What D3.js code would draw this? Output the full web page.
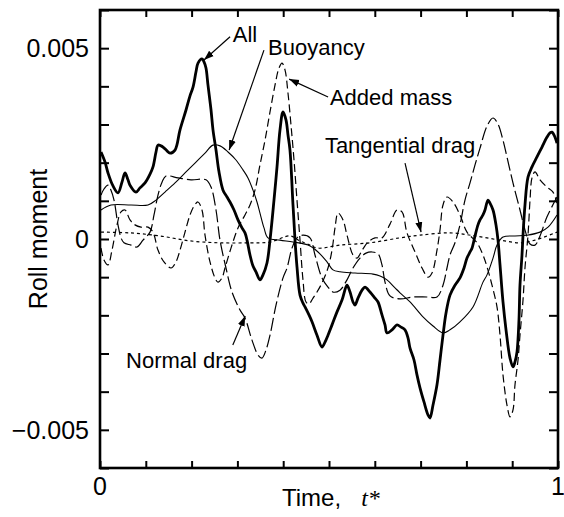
<!DOCTYPE html>
<html><head><meta charset="utf-8">
<script src="https://cdn.jsdelivr.net/npm/d3@7"></script>
<style>body{margin:0;background:#fff}svg{display:block}</style>
</head><body>
<svg id="chart" width="564" height="517"></svg>
<script>
// values of roll moment are given in units of 1e-3
const UNIT = 1e-3;

const tAll = [0.0022,0.0109,0.0175,0.0284,0.0393,0.0480,0.0546,0.0611,0.0655,0.0786,0.0873,0.0983,0.1092,0.1157,0.1223,0.1266,0.1332,0.1376,0.1463,0.1528,0.1638,0.1747,0.1878,0.1965,0.2031,0.2096,0.2140,0.2227,0.2271,0.2314,0.2358,0.2424,0.2467,0.2533,0.2598,0.2686,0.2773,0.2838,0.2926,0.3013,0.3100,0.3166,0.3210,0.3275,0.3341,0.3406,0.3493,0.3559,0.3646,0.3712,0.3799,0.3865,0.3930,0.3996,0.4061,0.4105,0.4148,0.4214,0.4258,0.4301,0.4367,0.4432,0.4476,0.4563,0.4629,0.4738,0.4847,0.4913,0.4978,0.5066,0.5175,0.5284,0.5393,0.5459,0.5524,0.5568,0.5633,0.5721,0.5786,0.5895,0.6004,0.6070,0.6157,0.6223,0.6266,0.6376,0.6485,0.6572,0.6659,0.6725,0.6769,0.6856,0.6921,0.6987,0.7074,0.7162,0.7205,0.7271,0.7358,0.7424,0.7489,0.7555,0.7642,0.7751,0.7860,0.7948,0.8013,0.8079,0.8122,0.8188,0.8253,0.8297,0.8362,0.8406,0.8472,0.8515,0.8581,0.8646,0.8690,0.8734,0.8799,0.8865,0.8952,0.9017,0.9061,0.9105,0.9148,0.9170,0.9214,0.9236,0.9279,0.9345,0.9432,0.9541,0.9651,0.9760,0.9825,0.9869,0.9934,0.9978];
const vAll = [2.28,2.02,1.73,1.39,1.21,1.49,1.73,1.55,1.41,1.23,1.34,1.47,1.70,1.89,2.28,2.46,2.44,2.41,2.31,2.25,2.33,2.86,3.38,3.75,3.98,4.38,4.61,4.72,4.64,4.48,4.03,3.38,2.86,2.33,1.76,1.28,1.10,0.97,0.76,0.50,0.29,0.16,-0.03,-0.42,-0.71,-0.86,-1.07,-0.94,-0.63,-0.03,1.02,1.89,2.86,3.33,3.12,2.72,2.33,0.89,-0.03,-0.73,-1.47,-1.68,-1.78,-1.99,-2.17,-2.52,-2.83,-2.70,-2.52,-2.25,-1.91,-1.60,-1.21,-1.39,-1.65,-1.73,-1.55,-1.34,-1.26,-1.39,-1.55,-1.65,-1.99,-2.25,-2.46,-2.38,-2.25,-2.31,-2.38,-2.59,-2.86,-3.17,-3.56,-3.90,-4.27,-4.61,-4.69,-4.35,-3.82,-3.17,-2.52,-1.94,-1.47,-1.21,-1.02,-0.76,-0.50,-0.34,-0.24,0.08,0.37,0.50,0.63,0.76,1.02,0.94,0.76,0.37,-0.03,-0.68,-1.65,-2.38,-3.12,-3.35,-3.22,-2.96,-2.12,-1.21,-0.42,0.10,0.89,1.62,1.89,2.15,2.41,2.67,2.78,2.80,2.67,2.51];

const tBuoy = [0.0022,0.0240,0.0677,0.1048,0.1223,0.1419,0.1638,0.1856,0.2074,0.2293,0.2467,0.2620,0.2795,0.2969,0.3122,0.3231,0.3341,0.3428,0.3493,0.3581,0.3668,0.3930,0.4214,0.4541,0.4760,0.4956,0.5087,0.5240,0.5568,0.5961,0.6114,0.6266,0.6441,0.6550,0.6769,0.7052,0.7271,0.7489,0.7642,0.7860,0.8144,0.8362,0.8450,0.8581,0.8668,0.8799,0.9061,0.9323,0.9607,0.9782,0.9978];
const vBuoy = [0.76,0.89,0.89,0.89,1.02,1.23,1.47,1.73,1.99,2.25,2.46,2.44,2.28,2.07,1.81,1.60,1.28,0.97,0.68,0.29,0.03,-0.03,-0.08,-0.16,-0.34,-0.60,-0.81,-0.86,-0.89,-0.92,-0.97,-1.07,-1.28,-1.41,-1.65,-2.04,-2.28,-2.46,-2.38,-2.17,-1.78,-1.13,-0.94,-0.50,-0.16,0.05,0.08,0.10,0.18,0.31,0.63];

const tAdded = [0.0022,0.0087,0.0175,0.0262,0.0371,0.0459,0.0546,0.0655,0.0764,0.0895,0.1048,0.1157,0.1266,0.1397,0.1550,0.1659,0.1747,0.1856,0.1965,0.2052,0.2140,0.2227,0.2293,0.2402,0.2511,0.2576,0.2664,0.2729,0.2860,0.3013,0.3166,0.3275,0.3384,0.3493,0.3603,0.3712,0.3821,0.3908,0.3974,0.4039,0.4105,0.4170,0.4236,0.4301,0.4367,0.4432,0.4498,0.4563,0.4651,0.4738,0.4847,0.4978,0.5066,0.5131,0.5197,0.5306,0.5393,0.5524,0.5611,0.5721,0.5852,0.6004,0.6157,0.6332,0.6485,0.6594,0.6703,0.6878,0.7031,0.7162,0.7249,0.7358,0.7424,0.7489,0.7576,0.7707,0.7860,0.8013,0.8231,0.8362,0.8450,0.8559,0.8668,0.8734,0.8799,0.8886,0.8952,0.9017,0.9061,0.9127,0.9170,0.9236,0.9279,0.9345,0.9389,0.9432,0.9498,0.9607,0.9760,0.9891,0.9978];
const vAdded = [-0.24,-0.55,-0.68,-0.29,0.37,0.71,0.76,0.50,0.37,0.31,0.31,0.18,-0.29,-0.60,-0.76,-0.60,-0.29,0.18,0.63,0.86,0.97,0.76,0.10,-0.60,-1.02,-1.13,-1.02,-0.76,-0.24,0.29,0.63,0.89,1.28,1.94,2.59,3.33,4.03,4.48,4.61,4.43,3.82,2.99,2.07,1.02,-0.03,-1.07,-1.65,-1.70,-1.55,-1.39,-1.15,-0.76,-0.29,0.29,0.68,0.50,0.10,-0.42,-0.50,-0.30,-0.08,0.03,0.03,0.39,0.76,0.71,0.16,-0.34,-0.76,-1.00,-0.89,-0.29,0.24,0.89,1.10,0.97,0.63,0.18,-0.10,-0.42,-0.73,-1.21,-1.78,-2.52,-3.56,-4.35,-4.66,-4.48,-3.82,-3.17,-2.52,-1.60,-0.76,0.10,1.02,1.60,1.76,1.55,1.36,1.23,0.94];

const tNormal = [0.0022,0.0087,0.0175,0.0240,0.0306,0.0393,0.0459,0.0524,0.0677,0.0808,0.0939,0.1092,0.1179,0.1266,0.1354,0.1441,0.1703,0.1987,0.2314,0.2424,0.2533,0.2620,0.2751,0.2882,0.3057,0.3166,0.3319,0.3450,0.3537,0.3624,0.3712,0.3843,0.3996,0.4083,0.4192,0.4301,0.4432,0.4585,0.4694,0.4847,0.4978,0.5087,0.5240,0.5393,0.5524,0.5677,0.5808,0.5939,0.6070,0.6157,0.6223,0.6332,0.6550,0.6834,0.7140,0.7358,0.7489,0.7576,0.7642,0.7751,0.7860,0.7969,0.8079,0.8188,0.8297,0.8450,0.8581,0.8690,0.8799,0.8886,0.9017,0.9170,0.9279,0.9389,0.9498,0.9607,0.9760,0.9978];
const vNormal = [1.15,1.31,1.41,1.28,1.02,0.37,0.03,-0.10,-0.16,-0.21,-0.03,0.18,0.63,1.15,1.49,1.65,1.60,1.55,1.55,1.36,0.76,-0.03,-0.76,-1.39,-1.86,-2.07,-2.65,-3.04,-3.12,-2.91,-2.52,-1.73,-1.02,-0.76,-0.24,0.03,0.10,0.03,-0.42,-1.02,-1.26,-1.39,-1.34,-1.07,-0.76,-0.50,-0.37,-0.34,-0.39,-0.68,-1.13,-1.49,-1.57,-1.52,-1.52,-1.52,-1.21,-0.76,-0.42,-0.10,0.37,1.02,1.47,1.94,2.38,2.96,3.17,3.01,2.59,2.15,1.47,0.76,0.24,-0.13,-0.16,0.08,0.58,1.10];

const tTang = [0.0022,0.0655,0.1310,0.1965,0.2620,0.3275,0.3712,0.4148,0.4367,0.4585,0.4760,0.5240,0.5895,0.6550,0.6987,0.7642,0.8188,0.8734,0.9170,0.9498,0.9978];
const vTang = [0.18,0.16,0.08,-0.05,-0.10,-0.10,-0.08,0.08,-0.05,-0.16,-0.24,-0.16,-0.10,0.03,0.10,0.16,0.08,-0.03,-0.10,-0.03,0.18];

const xTickValues = [0,0.1,0.2,0.3,0.4,0.5,0.6,0.7,0.8,0.9,1];
const xTickLabels = ["0","","","","","","","","","","1"];
const yTickValues = [-6,-5,-4,-3,-2,-1,0,1,2,3,4,5,6];
const yTickLabels = {"-5":"\u22120.005","0":"0","5":"0.005"};

// annotations: [text, labelT, labelV, fromT, fromV, tipT, tipV]
const notes = [
  ["All", 0.290, 5.16, 0.284, 5.30, 0.227, 4.69],
  ["Buoyancy", 0.367, 4.82, 0.358, 4.95, 0.282, 2.33],
  ["Added mass", 0.502, 3.51, 0.498, 3.72, 0.413, 4.19],
  ["Tangential drag", 0.491, 2.25, 0.666, 1.99, 0.701, 0.18],
  ["Normal drag", 0.057, -3.38, 0.290, -2.78, 0.317, -2.02]
];

const svg = d3.select("#chart");
const L = 100, R = 558, T = 10, B = 468;
const x = d3.scaleLinear().domain([0,1]).range([L,R]);
const y = d3.scaleLinear().domain([-6*UNIT, 6*UNIT]).range([B,T]);
const font = "'Liberation Sans', Arial, Helvetica, sans-serif";

function series(ts, vs){ return ts.map((t,i)=>[t, vs[i]*UNIT]); }
const line = d3.line().x(d=>x(d[0])).y(d=>y(d[1])).curve(d3.curveCatmullRom.alpha(0.5));

const plot = svg.append("g");
const defs = svg.append("defs");
defs.append("clipPath").attr("id","clip").append("rect").attr("x",L).attr("y",T).attr("width",R-L).attr("height",B-T);
plot.attr("clip-path","url(#clip)");

const styles = [
  [tTang, vTang, 1.2, "3,3"],
  [tNormal, vNormal, 1.2, "13,4"],
  [tAdded, vAdded, 1.2, "8,4"],
  [tBuoy, vBuoy, 1.1, null],
  [tAll, vAll, 2.8, null]
];
styles.forEach(s=>{
  const p = plot.append("path").datum(series(s[0], s[1]))
    .attr("d", line).attr("fill","none").attr("stroke","#000")
    .attr("stroke-width", s[2]).attr("stroke-linejoin","round");
  if (s[3]) p.attr("stroke-dasharray", s[3]);
});

// axes (ticks inward)
const axG = svg.append("g");
axG.append("g").attr("transform",`translate(0,${B})`).call(d3.axisBottom(x).tickValues(xTickValues).tickSize(-7).tickFormat(""));
axG.append("g").attr("transform",`translate(0,${T})`).call(d3.axisTop(x).tickValues(xTickValues).tickSize(-7).tickFormat(""));
axG.append("g").attr("transform",`translate(${L},0)`).call(d3.axisLeft(y).tickValues(yTickValues.map(v=>v*UNIT)).tickSize(-9).tickFormat(""));
axG.append("g").attr("transform",`translate(${R},0)`).call(d3.axisRight(y).tickValues(yTickValues.map(v=>v*UNIT)).tickSize(-9).tickFormat(""));
axG.selectAll(".domain").remove();
axG.selectAll(".tick line").attr("stroke","#000").attr("stroke-width",2);
svg.append("rect").attr("x",L).attr("y",T).attr("width",R-L).attr("height",B-T)
  .attr("fill","none").attr("stroke","#000").attr("stroke-width",2.6);

// tick labels
xTickValues.forEach((v,i)=>{
  if (!xTickLabels[i]) return;
  svg.append("text").attr("x", x(v)).attr("y", B+27).attr("text-anchor","middle")
    .attr("font-family",font).attr("font-size",25).text(xTickLabels[i]);
});
yTickValues.forEach(v=>{
  const lab = yTickLabels[String(v)];
  if (!lab) return;
  svg.append("text").attr("x", L-11).attr("y", y(v*UNIT)+9).attr("text-anchor","end")
    .attr("font-family",font).attr("font-size",25).text(lab);
});

// axis titles
const xt = svg.append("text").attr("x", 282).attr("y", 506).attr("text-anchor","start")
  .attr("font-family",font).attr("font-size",24);
xt.append("tspan").text("Time,\u00A0\u00A0\u00A0");
xt.append("tspan").attr("font-family","'Liberation Serif','Times New Roman',serif").attr("font-style","italic").text("t*");
svg.append("text").attr("transform",`translate(47,${(T+B)/2}) rotate(-90)`).attr("text-anchor","middle")
  .attr("font-family",font).attr("font-size",25).text("Roll moment");

// annotations
defs.append("marker").attr("id","arr").attr("viewBox","0 0 10 10").attr("refX",10).attr("refY",5)
  .attr("markerWidth",10).attr("markerHeight",10).attr("markerUnits","userSpaceOnUse").attr("orient","auto")
  .append("path").attr("d","M0,1.5 L10,5 L0,8.5 Z").attr("fill","#000");
notes.forEach(n=>{
  svg.append("text").attr("x", x(n[1])).attr("y", y(n[2]*UNIT)).attr("font-family",font)
    .attr("font-size",22).text(n[0]);
  svg.append("line").attr("x1",x(n[3])).attr("y1",y(n[4]*UNIT)).attr("x2",x(n[5])).attr("y2",y(n[6]*UNIT))
    .attr("stroke","#000").attr("stroke-width",1.2).attr("marker-end","url(#arr)");
});
</script>
</body></html>
